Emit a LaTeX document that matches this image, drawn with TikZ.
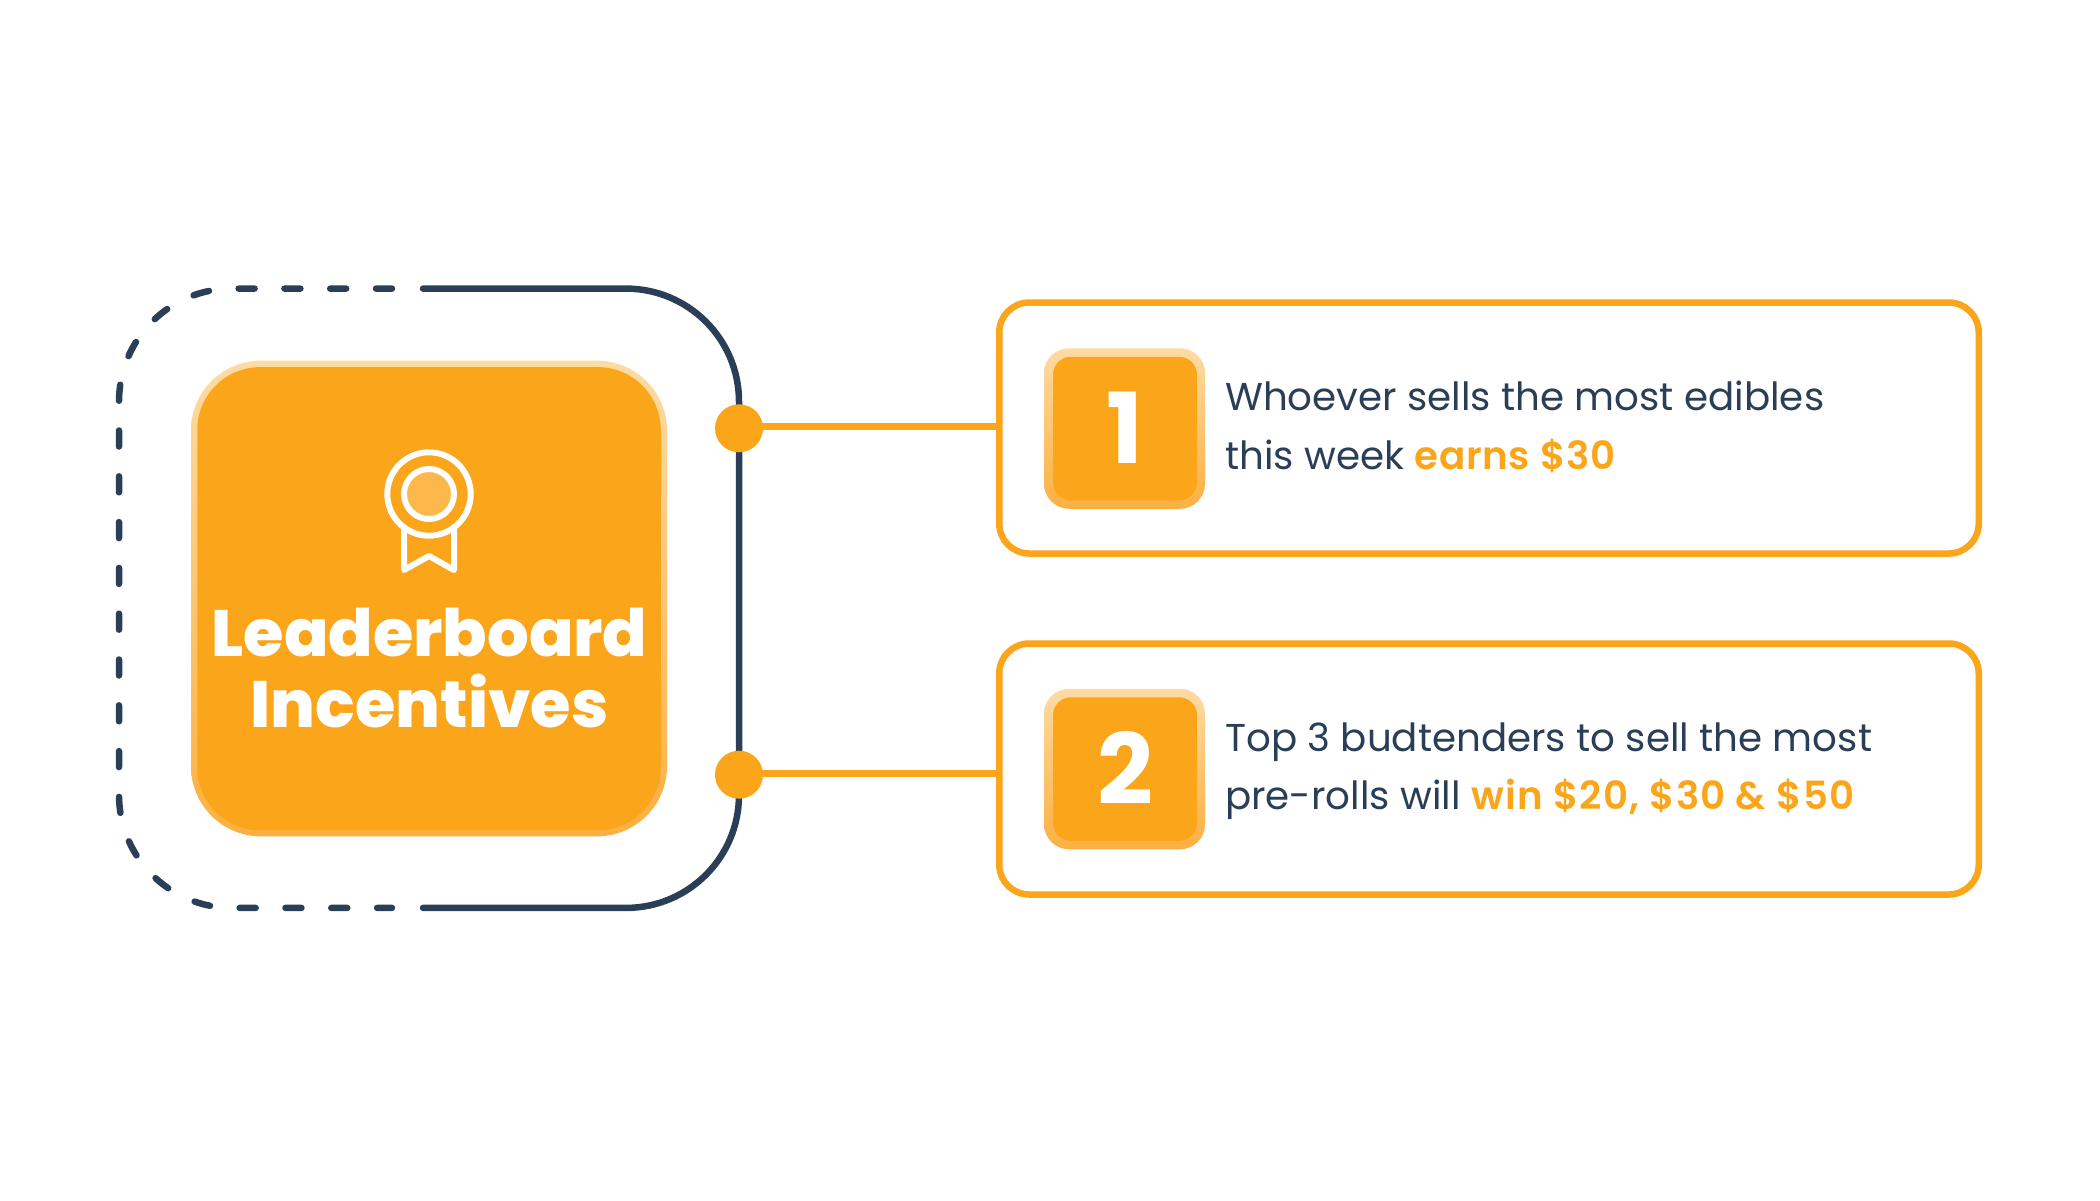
\documentclass[tikz,border=0pt]{standalone}
\usepackage{fontspec}
\setmainfont{Poppins}
\newfontfamily\semifont[LetterSpace=1.8]{Poppins SemiBold}
\newfontfamily\semiwide[LetterSpace=3]{Poppins SemiBold}
\newfontfamily\heavyfont{Poppins ExtraBold}
\definecolor{orangeA}{HTML}{FAA51A}
\definecolor{navyA}{HTML}{2A3F57}
\definecolor{paleA}{HTML}{FDDBA3}
\definecolor{midA}{HTML}{FCB040}
\definecolor{discA}{HTML}{FDB84B}
\tikzset{
  x=1pt,y=-1pt,
  navyline/.style={draw=navyA,line width=6.5pt,line cap=round,rounded corners=113pt},
  conn/.style={draw=orangeA,line width=7pt},
  dotn/.style={circle,fill=orangeA,minimum size=48pt,inner sep=0pt},
  framebox/.style={draw=orangeA,line width=6.5pt,fill=white,rounded corners=30pt,minimum width=979.5pt,minimum height=251pt,inner sep=0pt},
  halo/.style={top color=paleA,bottom color=midA,inner sep=0pt},
  bigouter/.style={halo,rounded corners=70pt,minimum width=476pt,minimum height=475.7pt},
  biginner/.style={fill=orangeA,rounded corners=63pt,minimum width=463.5pt,minimum height=463.2pt,inner sep=0pt},
  badgeouter/.style={halo,rounded corners=25pt,minimum width=161pt,minimum height=160.5pt},
  badgeinner/.style={fill=orangeA,rounded corners=18pt,minimum width=144pt,minimum height=143.5pt,inner sep=0pt},
  icon/.style={draw=white,line width=6pt,line join=round,line cap=round},
  body/.style={anchor=base west,inner sep=0pt,text=navyA,font=\fontsize{38.8}{39}\selectfont},
  titlet/.style={anchor=base,inner sep=0pt,text=white,font=\fontsize{65.5}{66}\heavyfont},
  numt/.style={anchor=base,inner sep=0pt,text=white,font=\fontsize{98}{98}\bfseries\selectfont},
}
\begin{document}
\begin{tikzpicture}
\useasboundingbox (0,0) rectangle (2100,1200);
\fill[white] (0,0) rectangle (2100,1200);
% outline
\draw[navyline] (423,288.6) -- (739,288.6) -- (739,907.9) -- (423,907.9);
\draw[navyline,dash pattern=on 16pt off 29.8pt] (392,288.6) -- (119,288.6) -- (119,907.9) -- (392,907.9);
% main
\node[bigouter] (mainout) at (429,598.5) {};
\node[biginner] (mainin) at (429,598.7) {};
\draw[icon] (404,527) -- (404,570) -- (429,556) -- (454,570) -- (454,527);
\draw[icon] (429,494) circle (41.7);
\draw[icon,fill=discA] (429,494) circle (25);
\node[titlet] (t1) at (429.5,656.8) {Leaderboard};
\node[titlet] (t2) at (429.5,727) {Incentives};
% boxes
\node[framebox] (box1) at (1489,428) {};
\node[framebox] (box2) at (1489,769) {};
% dots and connectors
\node[dotn] (dot1) at (739,428.3) {};
\node[dotn] (dot2) at (739,774.7) {};
\draw[conn] ([yshift=1.7pt]dot1.center) -- ([yshift=1.7pt]dot1.center -| box1.west);
\draw[conn] ([yshift=1.7pt]dot2.center) -- ([yshift=1.7pt]dot2.center -| box2.west);
% badges
\node[badgeouter] (b1o) at (1124.5,428.5) {};
\node[badgeinner] (b1i) at (1125,428.5) {};
\node[numt] (n1) at (1125,463) {1};
\node[badgeouter] (b2o) at (1124.5,769) {};
\node[badgeinner] (b2i) at (1125,769) {};
\node[numt] (n2) at (1125,804) {2};
% text
\node[body] (l1) at (1225,410.7) {Whoever sells the most edibles};
\node[body] (l2) at (1225,469) {this week \textcolor{orangeA}{\semifont earns \$30}};
\node[body] (l3) at (1225,751) {Top 3 budtenders to sell the most};
\node[body] (l4) at (1225,809) {pre-rolls will \textcolor{orangeA}{\semiwide win \$20, \$30 \& \$50}};
\end{tikzpicture}
\end{document}
